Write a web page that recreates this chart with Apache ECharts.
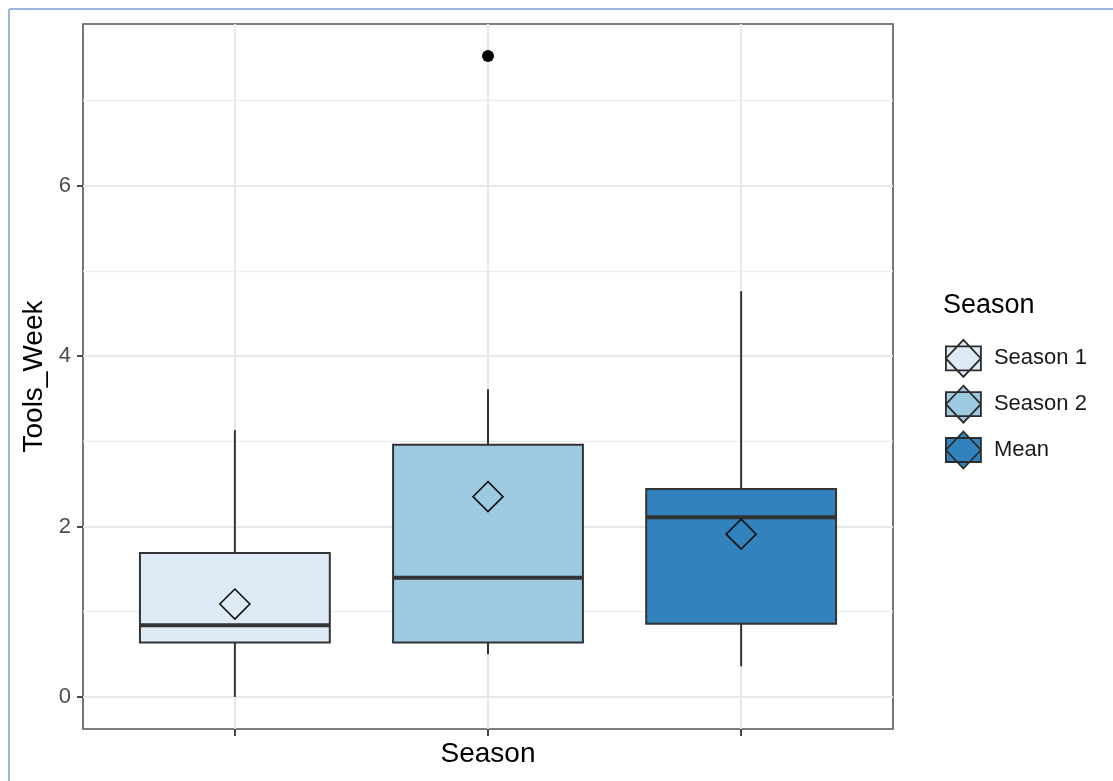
<!DOCTYPE html>
<html>
<head>
<meta charset="utf-8">
<script src="https://cdn.jsdelivr.net/npm/echarts@6/dist/echarts.min.js"></script>
<style>
  html, body { margin: 0; padding: 0; background: #ffffff; }
  #chart { width: 1113px; height: 781px; }
</style>
</head>
<body>
<div id="chart"></div>
<script>
// Boxplot summaries of Tools_Week per season
const categories  = ['Season 1', 'Season 2', 'Mean'];
const whiskerLow  = [0.00, 0.50, 0.36];
const quartile1   = [0.64, 0.64, 0.86];
const medians     = [0.84, 1.40, 2.11];
const quartile3   = [1.69, 2.96, 2.44];
const whiskerHigh = [3.13, 3.61, 4.76];
const means       = [1.09, 2.35, 1.91];
const outlierCategory = ['Season 2'];
const outlierValues   = [7.52];
const yTickValues  = [0, 2, 4, 6];
const yMinorValues = [1, 3, 5, 7];
const fills = ['#deebf7', '#9ecae1', '#3182bd'];

const FONT = '"Liberation Sans", Arial, sans-serif';
const BOX_WIDTH = 0.75;
const DIAMOND_HALF = 15;
const EDGE = '#333333';

// y range padded by 5% of the data span on each side
const allValues = whiskerLow.concat(whiskerHigh, outlierValues, means);
const dataMin = Math.min.apply(null, allValues);
const dataMax = Math.max.apply(null, allValues);
const pad = 0.05 * (dataMax - dataMin);
const xPositions = categories.map((_, i) => i + 1);

function renderBox(params, api) {
  const x = api.value(0);
  const color = api.visual('color');
  const halfW = api.size([BOX_WIDTH, 0])[0] / 2;
  const cx = api.coord([x, 0])[0];
  const y = v => api.coord([x, v])[1];
  const yLo = y(api.value(1)), yQ1 = y(api.value(2)), yMed = y(api.value(3));
  const yQ3 = y(api.value(4)), yHi = y(api.value(5)), yMean = y(api.value(6));
  const lineStyle = { stroke: EDGE, lineWidth: 2 };
  return {
    type: 'group',
    children: [
      { type: 'line', shape: { x1: cx, y1: yHi, x2: cx, y2: yQ3 }, style: lineStyle },
      { type: 'line', shape: { x1: cx, y1: yQ1, x2: cx, y2: yLo }, style: lineStyle },
      { type: 'rect', shape: { x: cx - halfW, y: yQ3, width: 2 * halfW, height: yQ1 - yQ3 },
        style: { fill: color, stroke: EDGE, lineWidth: 2 } },
      { type: 'line', shape: { x1: cx - halfW, y1: yMed, x2: cx + halfW, y2: yMed },
        style: { stroke: EDGE, lineWidth: 4 } },
      { type: 'polygon',
        shape: { points: [[cx, yMean - DIAMOND_HALF], [cx + DIAMOND_HALF, yMean],
                          [cx, yMean + DIAMOND_HALF], [cx - DIAMOND_HALF, yMean]] },
        style: { fill: color, stroke: '#111111', lineWidth: 1.6 } }
    ]
  };
}

const boxSeries = categories.map((name, i) => ({
  name: name,
  type: 'custom',
  z: 3,
  silent: true,
  animation: false,
  itemStyle: { color: fills[i] },
  encode: { x: 0, y: [1, 2, 3, 4, 5, 6] },
  data: [[xPositions[i], whiskerLow[i], quartile1[i], medians[i], quartile3[i], whiskerHigh[i], means[i]]],
  renderItem: renderBox
}));

const gridLines = []
  .concat(yMinorValues.map(v => ({ yAxis: v, lineStyle: { color: '#efefef', width: 1.3, type: 'solid' } })))
  .concat(yTickValues.map(v => ({ yAxis: v, lineStyle: { color: '#e8e8e8', width: 2, type: 'solid' } })))
  .concat(xPositions.map(v => ({ xAxis: v, lineStyle: { color: '#e8e8e8', width: 2, type: 'solid' } })));

const outlierSeries = {
  name: 'outliers',
  type: 'scatter',
  z: 4,
  silent: true,
  animation: false,
  symbol: 'circle',
  symbolSize: 12,
  itemStyle: { color: '#000000', opacity: 1 },
  data: outlierCategory.map((c, k) => [categories.indexOf(c) + 1, outlierValues[k]]),
  markLine: {
    z: 1,
    silent: true,
    animation: false,
    symbol: ['none', 'none'],
    label: { show: false },
    emphasis: { disabled: true },
    data: gridLines
  }
};

// legend key: filled box with the mean diamond on top
const keyIcon = 'path://M0,6.5 H35 V30.5 H0 Z M17.5,0 L35,18.5 L17.5,37 L0,18.5 Z';

const option = {
  backgroundColor: '#ffffff',
  animation: false,
  textStyle: { fontFamily: FONT },
  grid: {
    left: 83, top: 24, right: 220, bottom: 52,
    show: true, borderColor: '#555555', borderWidth: 1.6, backgroundColor: '#ffffff'
  },
  title: {
    text: 'Season', left: 938, top: 287,
    textStyle: { fontFamily: FONT, fontSize: 27, fontWeight: 'normal', color: '#000000' }
  },
  legend: {
    orient: 'vertical',
    left: 940, top: 334,
    itemWidth: 35, itemHeight: 37, itemGap: 7,
    selectedMode: false,
    textStyle: { fontFamily: FONT, fontSize: 22, color: '#1a1a1a', padding: [0, 0, 0, 8] },
    data: categories.map((name, i) => ({
      name: name,
      icon: keyIcon,
      itemStyle: { color: fills[i], borderColor: '#2b2b2b', borderWidth: 1.8 }
    }))
  },
  xAxis: {
    type: 'value',
    min: 0.4, max: categories.length + 0.6,
    name: 'Season', nameLocation: 'middle', nameGap: 11,
    nameTextStyle: { fontFamily: FONT, fontSize: 28, color: '#000000' },
    axisLine: { show: false, onZero: false },
    axisTick: { show: true, customValues: xPositions, length: 7, lineStyle: { color: EDGE, width: 1.8 } },
    axisLabel: { show: false },
    splitLine: { show: false }
  },
  yAxis: {
    type: 'value',
    min: dataMin - pad, max: dataMax + pad,
    name: 'Tools_Week', nameLocation: 'middle', nameGap: 33, nameRotate: 90,
    nameTextStyle: { fontFamily: FONT, fontSize: 28, color: '#000000' },
    axisLine: { show: false, onZero: false },
    axisTick: { show: true, customValues: yTickValues, length: 6, lineStyle: { color: EDGE, width: 1.8 } },
    axisLabel: { customValues: yTickValues, fontFamily: FONT, fontSize: 22, color: '#4d4d4d', margin: 12 },
    splitLine: { show: false }
  },
  graphic: [
    { type: 'line', silent: true, z: 100, shape: { x1: 9, y1: 9, x2: 1113, y2: 9 },
      style: { stroke: '#9db6e4', lineWidth: 2 } },
    { type: 'line', silent: true, z: 100, shape: { x1: 9, y1: 9, x2: 9, y2: 781 },
      style: { stroke: '#9db6e4', lineWidth: 2 } }
  ],
  series: boxSeries.concat([outlierSeries])
};

const chart = echarts.init(document.getElementById('chart'), null, { renderer: 'canvas' });
chart.setOption(option);
</script>
</body>
</html>
